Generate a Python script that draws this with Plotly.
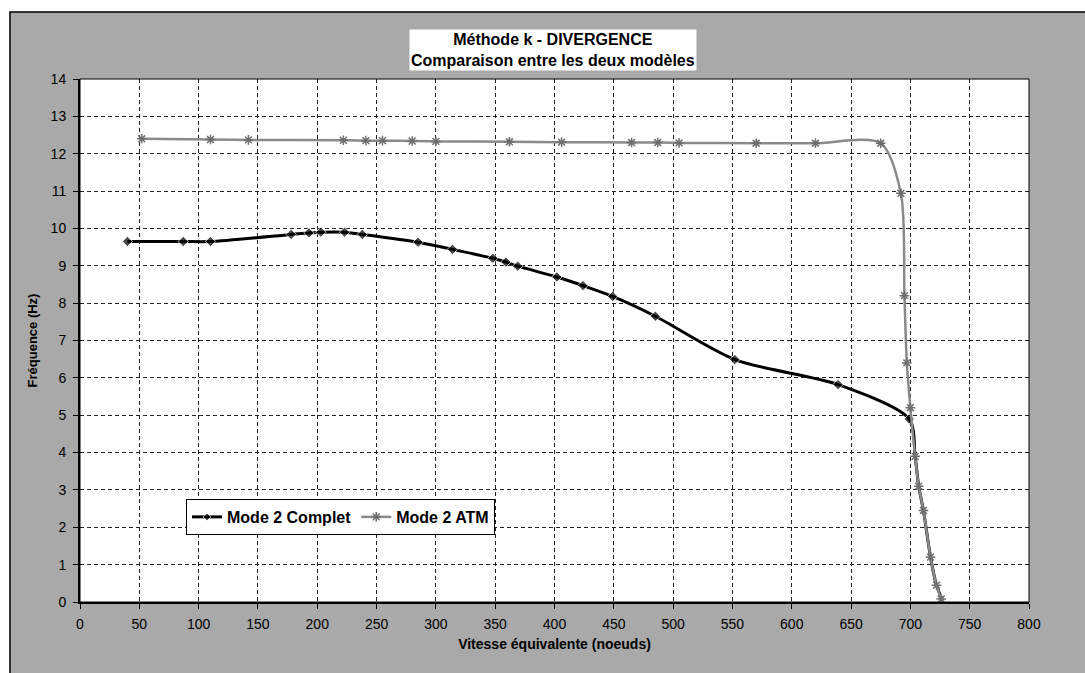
import plotly.graph_objects as go

# Mode 2 - complete model (speed in knots, frequency in Hz)
complet_vitesse = [40, 87, 110, 178, 193, 203, 223, 238, 285, 314, 348, 359, 369,
                   402, 424, 449, 485, 552, 639, 699, 704, 707, 711, 717, 722, 727]
complet_freq = [9.65, 9.65, 9.65, 9.84, 9.88, 9.9, 9.9, 9.84, 9.63, 9.44, 9.2, 9.1, 8.99,
                8.7, 8.47, 8.18, 7.65, 6.49, 5.82, 4.9, 3.9, 3.1, 2.45, 1.2, 0.45, 0.05]

# Mode 2 - ATM model
atm_vitesse = [52, 110, 142, 222, 241, 255, 280, 300, 362, 406, 465, 487, 505, 570, 620,
               675, 692, 695, 697, 700, 704, 707, 711, 717, 722, 726]
atm_freq = [12.4, 12.38, 12.37, 12.36, 12.35, 12.35, 12.34, 12.33, 12.32, 12.31, 12.3,
            12.3, 12.29, 12.28, 12.28, 12.28, 10.94, 8.2, 6.4, 5.2, 3.9, 3.1, 2.45, 1.2,
            0.45, 0.08]

x_ticks = list(range(0, 801, 50))
y_ticks = list(range(0, 15, 1))

FONT = "Liberation Sans, Arial, sans-serif"

# the complete-model curve only carries markers up to the divergence point
complet_sizes = [8 if v <= 700 else 0 for v in complet_vitesse]

fig = go.Figure()

fig.add_trace(go.Scatter(
    x=complet_vitesse, y=complet_freq, name="<b>Mode 2 Complet</b>",
    mode="lines+markers",
    line=dict(color="black", width=3, shape="spline", smoothing=0.8),
    marker=dict(symbol="diamond", size=complet_sizes, color="black"),
))

fig.add_trace(go.Scatter(
    x=atm_vitesse, y=atm_freq, name="<b>Mode 2 ATM</b>",
    mode="lines+markers",
    line=dict(color="#8a8a8a", width=2.5, shape="spline", smoothing=0.8),
    marker=dict(symbol="asterisk-open", size=8, color="#6e6e6e",
                line=dict(color="#6e6e6e", width=1.5)),
))

axis_common = dict(
    showgrid=True, gridcolor="#222222", gridwidth=1, griddash="4px,3px",
    zeroline=False, showline=True, linecolor="black", linewidth=2,
    ticks="outside", ticklen=5, tickcolor="black", tickwidth=1,
    tickfont=dict(family=FONT, size=14, color="black"),
)

fig.update_xaxes(
    range=[0, 800], tickvals=x_ticks, ticklabelstandoff=3,
    title=dict(text="<b>Vitesse équivalente (noeuds)</b>",
               font=dict(family=FONT, size=14, color="black"), standoff=8),
    **axis_common,
)
fig.update_yaxes(
    range=[0, 14], tickvals=y_ticks, ticklabelstandoff=4,
    title=dict(text="<b>Fréquence (Hz)</b>",
               font=dict(family=FONT, size=13, color="black"), standoff=10),
    **axis_common,
)

# outer chart frame: white margin strips, grey chart area, black border
frame_shapes = [
    dict(type="rect", xref="paper", yref="paper", x0=-0.2, x1=1.2, y0=1.128, y1=1.2,
         fillcolor="white", line=dict(width=0), layer="below"),
    dict(type="rect", xref="paper", yref="paper", x0=-0.2, x1=-0.0738, y0=-0.3, y1=1.2,
         fillcolor="white", line=dict(width=0), layer="below"),
    dict(type="rect", xref="paper", yref="paper", x0=-0.0738, x1=1.2, y0=-0.3, y1=1.128,
         fillcolor="rgba(0,0,0,0)", line=dict(color="black", width=1.5), layer="below"),
    dict(type="rect", xref="paper", yref="paper", x0=0, x1=1, y0=0, y1=1,
         fillcolor="rgba(0,0,0,0)", line=dict(color="black", width=1), layer="above"),
]

fig.update_layout(
    width=1085, height=673,
    margin=dict(l=80, r=56, t=79, b=71),
    paper_bgcolor="#a9a9a9",
    plot_bgcolor="white",
    font=dict(family=FONT, color="black"),
    shapes=frame_shapes,
    showlegend=True,
    legend=dict(
        orientation="h", x=0.1117, y=0.197, xanchor="left", yanchor="top",
        bgcolor="white", bordercolor="black", borderwidth=1,
        font=dict(family=FONT, size=16, color="black"),
        itemwidth=30, tracegroupgap=0,
    ),
    annotations=[dict(
        text="<b>Méthode k - DIVERGENCE</b><br><b>Comparaison entre les deux modèles</b>",
        xref="paper", yref="paper", x=0.498, y=1.0564,
        xanchor="center", yanchor="middle", showarrow=False,
        bgcolor="white", borderpad=1,
        font=dict(family=FONT, size=16, color="black"),
    )],
)

fig.write_html("out.html")
